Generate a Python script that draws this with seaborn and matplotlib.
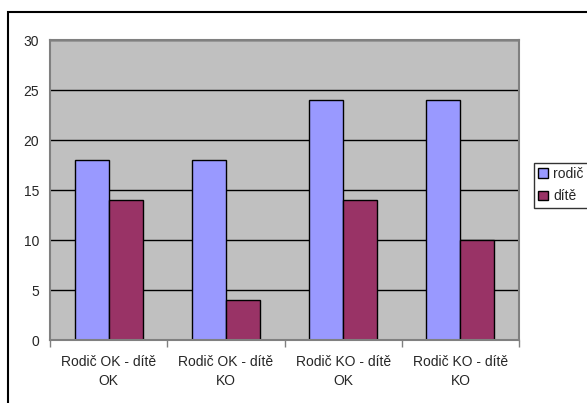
import seaborn as sns
import matplotlib.pyplot as plt
import pandas as pd
from matplotlib.patches import Rectangle, Patch

categories = ["Rodič OK - dítě\nOK", "Rodič OK - dítě\nKO", "Rodič KO - dítě\nOK", "Rodič KO - dítě\nKO"]
rodic = [18, 18, 24, 24]
dite = [14, 4, 14, 10]
series = ["rodič", "dítě"]
colors = ["#9999FF", "#993366"]

df = pd.DataFrame({
    "kategorie": categories * 2,
    "hodnota": rodic + dite,
    "serie": [series[0]] * 4 + [series[1]] * 4,
})

sns.set_style("white")
plt.rcParams["font.family"] = ["Liberation Sans", "DejaVu Sans"]

fig = plt.figure(figsize=(5.87, 4.03), dpi=100)
ax = fig.add_axes([50 / 587, 1 - 340 / 403, 469 / 587, 300 / 403])
ax.set_facecolor("#C0C0C0")
ax.set_axisbelow(True)

sns.barplot(data=df, x="kategorie", y="hodnota", hue="serie", palette=colors,
            width=0.58, edgecolor="black", linewidth=1, saturation=1, ax=ax, legend=False)

ax.set_ylim(0, 30)
ax.set_xlim(-0.5, 3.5)
ax.set_yticks(range(0, 31, 5))
ax.yaxis.grid(True, color="black", linewidth=1)
ax.xaxis.grid(False)
ax.set_xlabel("")
ax.set_ylabel("")

ax.set_xticks([-0.5, 0.5, 1.5, 2.5, 3.5], minor=True)
ax.tick_params(axis="x", which="major", length=0, labelsize=10, pad=11)
ax.tick_params(axis="x", which="minor", length=5, width=1, color="#808080", direction="out")
ax.tick_params(axis="y", length=5, width=1, color="#808080", direction="out", labelsize=10, pad=3)
ax.xaxis.set_tick_params(which="both", bottom=True)
for lbl in ax.get_xticklabels():
    lbl.set_linespacing(1.4)

for side in ["left", "bottom", "top", "right"]:
    ax.spines[side].set_visible(True)
    ax.spines[side].set_color("#808080")
    ax.spines[side].set_linewidth(1.5)

handles = [Patch(facecolor=c, edgecolor="black", linewidth=1) for c in colors]
leg = fig.legend(handles, series, loc="upper left", bbox_to_anchor=(534 / 587, 1 - 163 / 403),
                 frameon=True, fancybox=False, edgecolor="black", fontsize=10,
                 handlelength=0.7, handleheight=0.7, handletextpad=0.4,
                 borderpad=0.3, labelspacing=0.6, borderaxespad=0)
leg.get_frame().set_linewidth(1)

fig.patches.append(Rectangle((8 / 587, -0.1), 1.2, 1 - 12 / 403 + 0.1, transform=fig.transFigure,
                             fill=False, edgecolor="black", linewidth=1.5, clip_on=False))

fig.savefig("out.png", dpi=100)
